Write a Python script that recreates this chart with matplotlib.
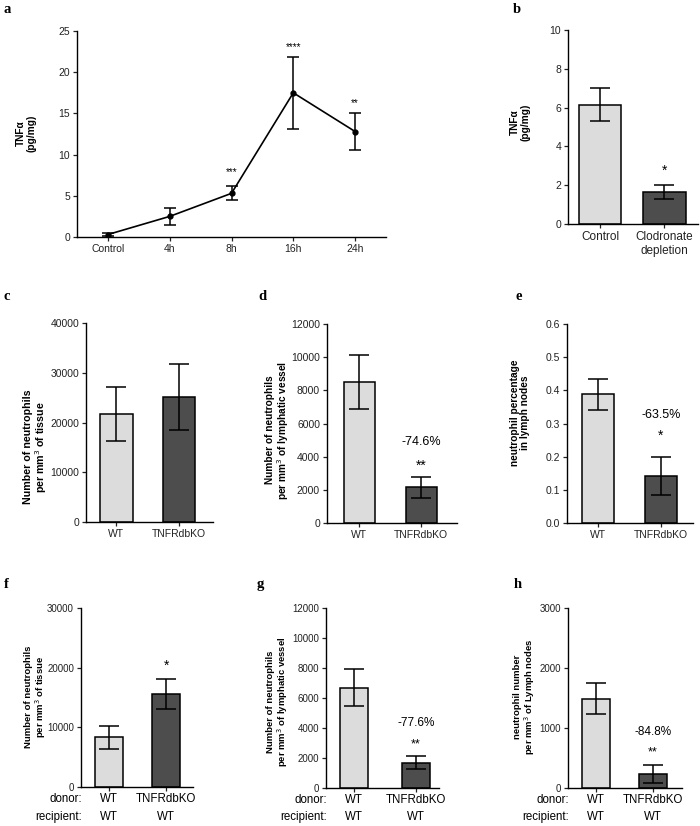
import matplotlib
matplotlib.use("Agg")
import matplotlib.pyplot as plt

plt.rcParams['font.family'] = ['Liberation Sans', 'DejaVu Sans']
plt.rcParams['font.size'] = 7.5

W, H = 700, 826

# ---- data ----
a_cats = ["Control", "4h", "8h", "16h", "24h"]
a_vals = [0.3, 2.5, 5.3, 17.5, 12.8]
a_err = [0.15, 1.0, 0.85, 4.35, 2.25]
a_stars = ["", "", "***", "****", "**"]
a_star_y = [0, 0, 7.9, 23.0, 16.2]

b_cats = ["Control", "Clodronate\ndepletion"]
b_vals = [6.15, 1.65]
b_err = [0.85, 0.37]

c_vals = [21700, 25100]
c_err = [5450, 6600]

d_vals = [8500, 2150]
d_err = [1650, 650]

e_vals = [0.388, 0.142]
e_err = [0.046, 0.057]

f_vals = [8300, 15600]
f_err = [1900, 2500]

g_vals = [6700, 1700]
g_err = [1250, 450]

h_vals = [1490, 230]
h_err = [260, 150]

ko_cats = ["WT", "TNFRdbKO"]
donors = ["WT", "TNFRdbKO"]
recipients = ["WT", "WT"]

light = "#dcdcdc"
dark = "#4d4d4d"


def px_axes(left, right, top, bottom):
    return fig.add_axes([left / W, 1 - bottom / H, (right - left) / W, (bottom - top) / H])


def style(ax, size=7.5):
    for s in ["top", "right"]:
        ax.spines[s].set_visible(False)
    for s in ["left", "bottom"]:
        ax.spines[s].set_linewidth(1.0)
    ax.tick_params(axis="both", length=3, width=0.9, labelsize=size, colors="#222222", pad=2)


def ylab(text, x, y, size=7.3):
    fig.text(x / W, 1 - y / H, text, rotation=90, ha="center", va="center",
             fontsize=size, fontweight="bold", linespacing=1.1)


def letter(ch, x, y):
    fig.text(x / W, 1 - y / H, ch, fontfamily="Liberation Serif", fontweight="bold",
             fontsize=10.5, ha="left", va="top")


def bars(ax, vals, err, width, cats):
    xs = range(len(vals))
    ax.bar(xs, vals, width=width, color=[light, dark], edgecolor="black", linewidth=1.1, zorder=2)
    ax.errorbar(xs, vals, yerr=err, fmt="none", ecolor="black", elinewidth=1.1,
                capsize=7, capthick=1.1, zorder=3)
    ax.set_xticks(list(xs))
    ax.set_xticklabels(cats)


fig = plt.figure(figsize=(W / 100, H / 100), dpi=100)

# ---- a ----
ax = px_axes(77, 386, 31, 237)
style(ax)
ax.errorbar(range(5), a_vals, yerr=a_err, color="black", lw=1.2, marker="o", ms=3.5,
            capsize=4, capthick=1.1, elinewidth=1.1)
ax.set_xticks(range(5))
ax.set_xticklabels(a_cats)
ax.set_xlim(-0.5, 4.5)
ax.set_ylim(0, 25)
ax.set_yticks([0, 5, 10, 15, 20, 25])
for i, s in enumerate(a_stars):
    if s:
        ax.text(i, a_star_y[i], s, ha="center", va="center", fontsize=7)
ylab("TNF\u03b1\n(pg/mg)", 26, 133)
letter("a", 4, 3)

# ---- b ----
ax = px_axes(568, 698, 30, 224)
style(ax)
bars(ax, b_vals, b_err, 0.67, b_cats)
ax.set_xlim(-0.5, 1.53)
ax.set_ylim(0, 10)
ax.set_yticks([0, 2, 4, 6, 8, 10])
ax.tick_params(axis="x", labelsize=8.5)
ax.text(1, 2.75, "*", ha="center", va="center", fontsize=10)
ylab("TNF\u03b1\n(pg/mg)", 520, 122)
letter("b", 513, 3)

# ---- c ----
ax = px_axes(86, 213, 323, 522)
style(ax)
bars(ax, c_vals, c_err, 0.52, ko_cats)
ax.set_xlim(-0.48, 1.54)
ax.set_ylim(0, 40000)
ax.set_yticks([0, 10000, 20000, 30000, 40000])
ylab("Number of neutrophils\nper mm$^3$ of tissue", 36, 447, 7.7)
letter("c", 4, 290)

# ---- d ----
ax = px_axes(327, 457, 324, 523)
style(ax)
bars(ax, d_vals, d_err, 0.5, ko_cats)
ax.set_xlim(-0.52, 1.58)
ax.set_ylim(0, 12000)
ax.set_yticks(range(0, 12001, 2000))
ax.text(1, 4890, "-74.6%", ha="center", va="center", fontsize=9)
ax.text(1, 3450, "**", ha="center", va="center", fontsize=10)
ylab("Number of neutrophils\nper mm$^3$ of lymphatic vessel", 278, 430)
letter("d", 258, 290)

# ---- e ----
ax = px_axes(567, 693, 324, 523)
style(ax)
bars(ax, e_vals, e_err, 0.5, ko_cats)
ax.set_xlim(-0.49, 1.51)
ax.set_ylim(0, 0.6)
ax.set_yticks([0.0, 0.1, 0.2, 0.3, 0.4, 0.5, 0.6])
ax.set_yticklabels(["0.0", "0.1", "0.2", "0.3", "0.4", "0.5", "0.6"])
ax.text(1, 0.326, "-63.5%", ha="center", va="center", fontsize=9)
ax.text(1, 0.262, "*", ha="center", va="center", fontsize=10)
ylab("neutrophil percentage\nin lymph nodes", 520, 413)
letter("e", 516, 290)


def transfer(ax, left_px, donor_y, rec_y):
    ax.set_xticklabels(["", ""])
    for i in range(2):
        xf = ax.transData.transform((i, 0))[0] / fig.dpi / fig.get_figwidth()
        fig.text(xf, 1 - donor_y / H, donors[i], ha="center", va="center", fontsize=8.3)
        fig.text(xf, 1 - rec_y / H, recipients[i], ha="center", va="center", fontsize=8.3)
    fig.text((left_px + 1) / W, 1 - donor_y / H, "donor:", ha="right", va="center", fontsize=8.3)
    fig.text((left_px + 1) / W, 1 - rec_y / H, "recipient:", ha="right", va="center", fontsize=8.3)


# ---- f ----
ax = px_axes(81, 193, 608, 787)
style(ax, 7)
bars(ax, f_vals, f_err, 0.49, ko_cats)
ax.set_xlim(-0.49, 1.47)
ax.set_ylim(0, 30000)
ax.set_yticks([0, 10000, 20000, 30000])
ax.text(1, 20300, "*", ha="center", va="center", fontsize=10)
transfer(ax, 81, 799, 817)
ylab("Number of neutrophils\nper mm$^3$ of tissue", 36, 697, 6.8)
letter("f", 4, 578)

# ---- g ----
ax = px_axes(326, 439, 608, 788)
style(ax, 7)
bars(ax, g_vals, g_err, 0.45, ko_cats)
ax.set_xlim(-0.45, 1.37)
ax.set_ylim(0, 12000)
ax.set_yticks(range(0, 12001, 2000))
ax.text(1, 4330, "-77.6%", ha="center", va="center", fontsize=8.5)
ax.text(1, 2900, "**", ha="center", va="center", fontsize=9)
transfer(ax, 326, 800, 817)
ylab("Number of neutrophils\nper mm$^3$ of lymphatic vessel", 278, 702, 6.8)
letter("g", 257, 578)

# ---- h ----
ax = px_axes(568, 682, 608, 788)
style(ax, 7)
bars(ax, h_vals, h_err, 0.5, ko_cats)
ax.set_xlim(-0.49, 1.51)
ax.set_ylim(0, 3000)
ax.set_yticks([0, 1000, 2000, 3000])
ax.text(1, 930, "-84.8%", ha="center", va="center", fontsize=8.5)
ax.text(1, 600, "**", ha="center", va="center", fontsize=9)
transfer(ax, 568, 800, 817)
ylab("neutrophil number\nper mm$^3$ of Lymph nodes", 525, 697, 6.8)
letter("h", 514, 578)

fig.savefig("out.png", dpi=100)
